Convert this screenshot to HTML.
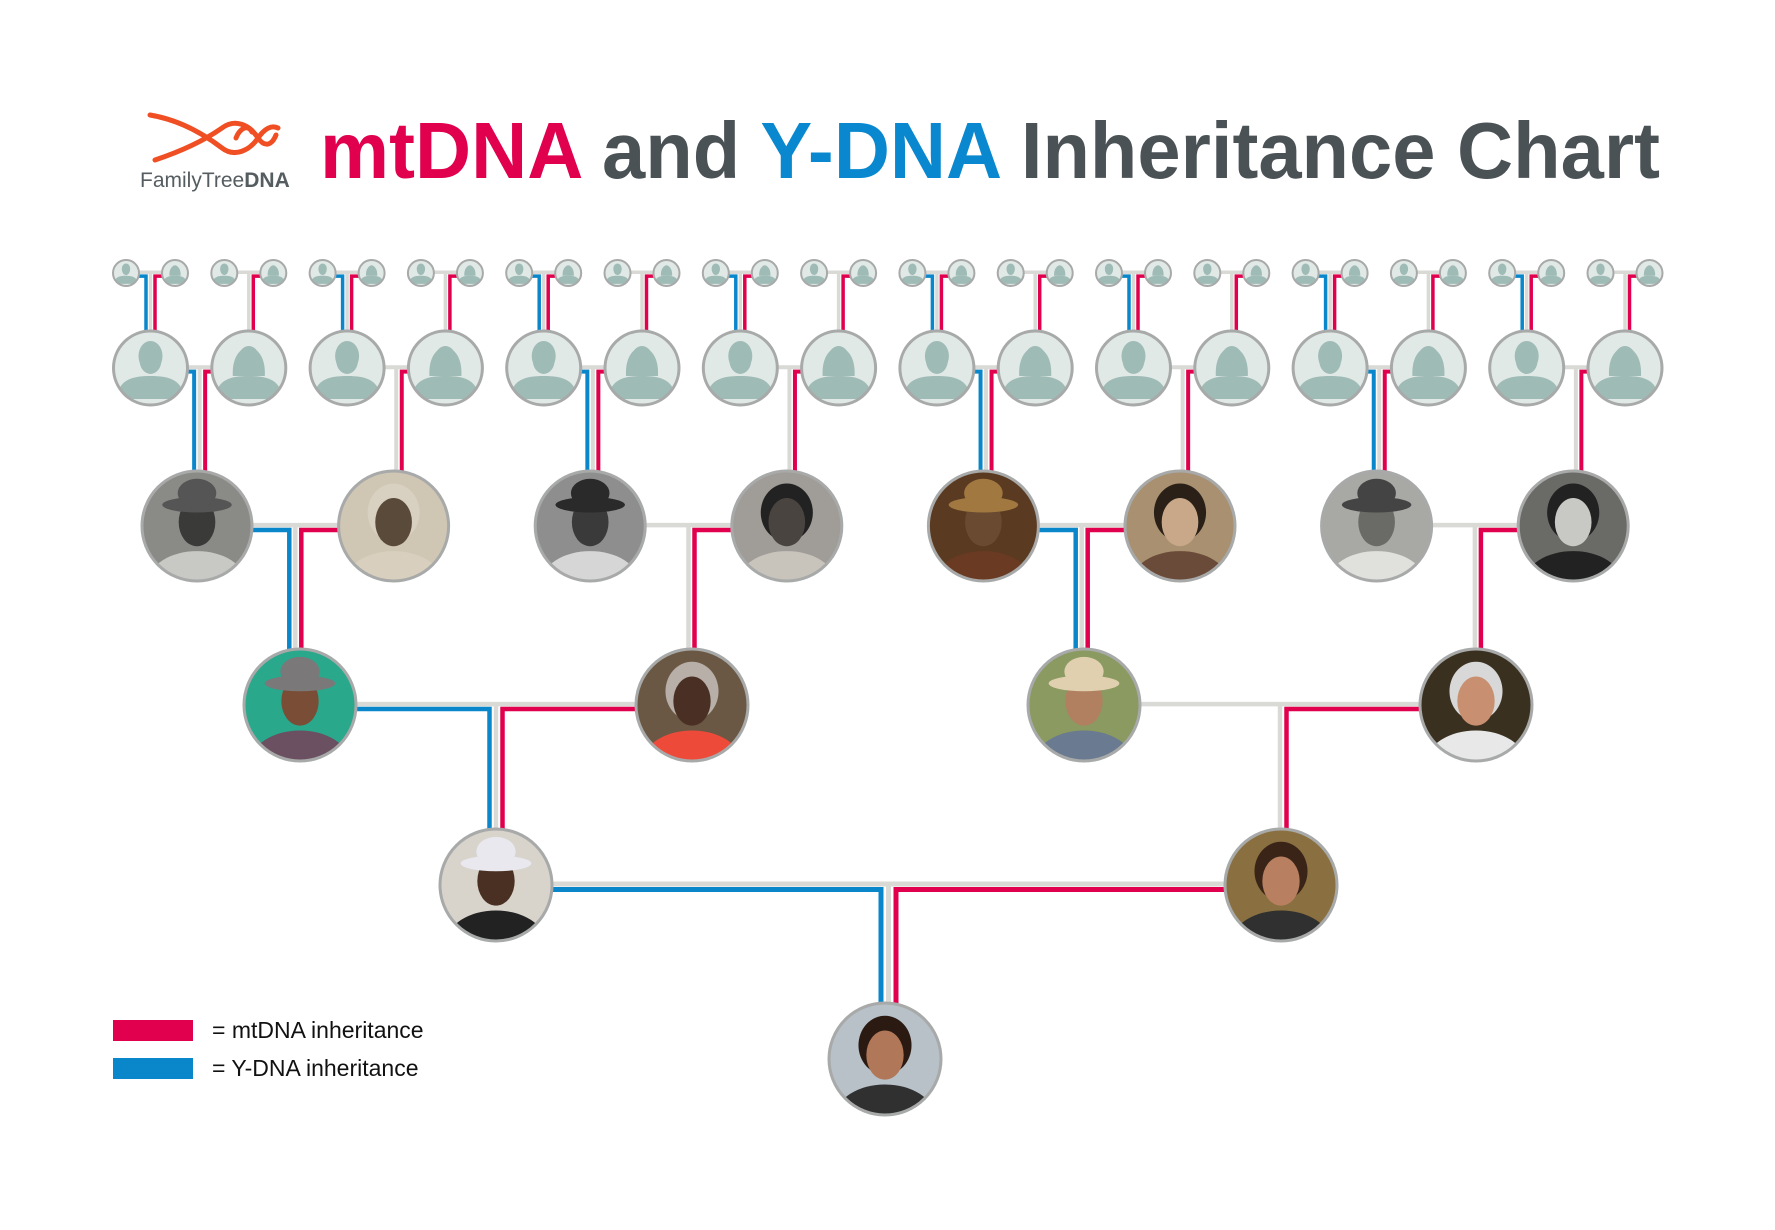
<!DOCTYPE html>
<html><head><meta charset="utf-8"><style>
html,body{margin:0;padding:0;background:#fff;width:1775px;height:1230px;overflow:hidden}
svg{display:block}
</style></head><body>
<svg id="s" width="1775" height="1230" viewBox="0 0 1775 1230" xmlns="http://www.w3.org/2000/svg">
<rect width="1775" height="1230" fill="#fff"/>
<g fill="none" stroke="#f04e23" stroke-width="5" stroke-linecap="round">
<path d="M150 115 C180 120 205 135 222 148 C235 158 250 150 258 138 C265 128 272 125 278 128"/>
<path d="M155 160 C185 150 205 140 222 128 C235 118 250 125 258 138 C265 148 272 145 276 135"/>
<path d="M236 138 C240 128 248 124 252 132"/>
</g>
<text x="140" y="187" font-family="Liberation Sans, sans-serif" font-size="21" fill="#555d61">FamilyTree<tspan font-weight="bold">DNA</tspan></text>
<text x="320" y="178" font-family="Liberation Sans, sans-serif" font-weight="bold" font-size="80" textLength="1340" lengthAdjust="spacingAndGlyphs"><tspan fill="#e0004d">mtDNA</tspan><tspan fill="#4a5256"> and </tspan><tspan fill="#0a88cf">Y-DNA</tspan><tspan fill="#4a5256"> Inheritance Chart</tspan></text>
<g id="lines"></g>
<g id="nodes"></g>
<rect x="113" y="1020" width="80" height="21" fill="#e0004d"/>
<rect x="113" y="1058" width="80" height="21" fill="#0a87cb"/>
<text x="212" y="1038" font-family="Liberation Sans, sans-serif" font-size="23" fill="#111">= mtDNA inheritance</text>
<text x="212" y="1076" font-family="Liberation Sans, sans-serif" font-size="23" fill="#111">= Y-DNA inheritance</text>
</svg>
<script>
var NS="http://www.w3.org/2000/svg";
var L=document.getElementById('lines'),N=document.getElementById('nodes');
var RED="#e0004d",BLUE="#0a87cb",GREY="#d9dad6";
var cid=0;
function el(p,t,a){var e=document.createElementNS(NS,t);for(var k in a)e.setAttribute(k,a[k]);p.appendChild(e);return e;}
function couple(lx,rx,y,r,cx,cy,cr,male,w,off){
  var m=(lx+rx)/2;
  el(L,'line',{x1:lx,y1:y-w*0.2,x2:rx,y2:y-w*0.2,stroke:GREY,'stroke-width':w});
  el(L,'line',{x1:m,y1:y,x2:m,y2:cy-cr+2,stroke:GREY,'stroke-width':w});
  if(male) el(L,'path',{d:'M'+(lx+r-2)+' '+(y+w*0.9)+' H'+(m-off)+' V'+(cy-cr+2),stroke:BLUE,'stroke-width':w,fill:'none'});
  el(L,'path',{d:'M'+(rx-r+2)+' '+(y+w*0.9)+' H'+(m+off)+' V'+(cy-cr+2),stroke:RED,'stroke-width':w,fill:'none'});
}
function placeholder(x,y,r,female){
  var id='c'+(cid++);
  var cp=el(N,'clipPath',{id:id});el(cp,'circle',{cx:x,cy:y,r:r});
  var g=el(N,'g',{'clip-path':'url(#'+id+')'});
  el(g,'rect',{x:x-r,y:y-r,width:2*r,height:2*r,fill:'#e1e9e7'});
  var s=r/37;
  if(female){
    el(g,'path',{d:'M'+(x-16*s)+' '+(y+8*s)+' C'+(x-18*s)+' '+(y-30*s)+' '+(x+18*s)+' '+(y-30*s)+' '+(x+16*s)+' '+(y+8*s)+' Z',fill:'#9fbbb6'});
  } else {
    el(g,'ellipse',{cx:x,cy:y-12*s,rx:12*s,ry:15*s,fill:'#9fbbb6'});
  }
  el(g,'ellipse',{cx:x,cy:y-8*s,rx:11*s,ry:14*s,fill:'#9fbbb6'});
  el(g,'path',{d:'M'+(x-33*s)+' '+(y+31*s)+' C'+(x-33*s)+' '+(y+10*s)+' '+(x-15*s)+' '+(y+8*s)+' '+x+' '+(y+8*s)+' C'+(x+15*s)+' '+(y+8*s)+' '+(x+33*s)+' '+(y+10*s)+' '+(x+33*s)+' '+(y+31*s)+' Z',fill:'#9fbbb6'});
  el(N,'circle',{cx:x,cy:y,r:r,fill:'none',stroke:'#a8a9a9','stroke-width':r>20?3:2});
}
function photo(x,y,r,p){
  var id='c'+(cid++);
  var cp=el(N,'clipPath',{id:id});el(cp,'circle',{cx:x,cy:y,r:r});
  var g=el(N,'g',{'clip-path':'url(#'+id+')'});
  el(g,'rect',{x:x-r,y:y-r,width:2*r,height:2*r,fill:p.bg});
  var s=r/57;
  if(p.hair) el(g,'ellipse',{cx:x,cy:y-14*s,rx:27*s,ry:30*s,fill:p.hair});
  el(g,'ellipse',{cx:x,cy:y+58*s,rx:50*s,ry:32*s,fill:p.body});
  el(g,'ellipse',{cx:x,cy:y-4*s,rx:19*s,ry:25*s,fill:p.skin});
  if(p.hat){
    el(g,'ellipse',{cx:x,cy:y-22*s,rx:36*s,ry:8*s,fill:p.hat});
    el(g,'ellipse',{cx:x,cy:y-34*s,rx:20*s,ry:15*s,fill:p.hat});
  }
  el(N,'circle',{cx:x,cy:y,r:r,fill:'none',stroke:'#a8a9a9','stroke-width':3});
}
var bx=[],g3=[],g4=[300,692,1084,1476],g5=[496,1281],g6=885;
for(var i=0;i<16;i++){bx.push(150.5+98.3*i);}
for(var i=0;i<8;i++){g3.push(197+196.6*i);}
var SY=273,SR=13,BY=368,BR=37,Y3=526,R3=55,Y4=705,R4=56,Y5=885,R5=56,Y6=1059,R6=56;
for(var i=0;i<16;i++){couple(bx[i]-24.5,bx[i]+24.5,SY,SR,bx[i],BY,BR,i%2==0,3.5,4.5);}
for(var j=0;j<8;j++){couple(bx[2*j],bx[2*j+1],BY,BR,g3[j],Y3,R3,j%2==0,4,5.5);}
for(var k=0;k<4;k++){couple(g3[2*k],g3[2*k+1],Y3,R3,g4[k],Y4,R4,k%2==0,4.5,6);}
for(var k=0;k<2;k++){couple(g4[2*k],g4[2*k+1],Y4,R4,g5[k],Y5,R5,k%2==0,4.5,6.5);}
couple(g5[0],g5[1],Y5,R5,g6+3,Y6,R6,true,5,7.5);
for(var i=0;i<16;i++){placeholder(bx[i]-24.5,SY,SR,false);placeholder(bx[i]+24.5,SY,SR,true);placeholder(bx[i],BY,BR,i%2==1);}
var P3=[
{bg:'#8a8a86',body:'#c8c8c4',skin:'#3a3a38',hat:'#555'},
{bg:'#cfc6b4',body:'#d8cfbe',skin:'#5a4a3a',hair:'#d8d0c0'},
{bg:'#8e8e8e',body:'#d6d6d6',skin:'#3a3a3a',hat:'#2a2a2a'},
{bg:'#a09c98',body:'#c8c4bc',skin:'#4a4440',hair:'#222'},
{bg:'#5a3a20',body:'#6a3a22',skin:'#6a4a30',hat:'#a07840'},
{bg:'#a89070',body:'#6a4a38',skin:'#c8a888',hair:'#2a2018'},
{bg:'#a8a8a4',body:'#e0e0dc',skin:'#6a6a66',hat:'#444'},
{bg:'#6a6a66',body:'#222',skin:'#c8c8c4',hair:'#222'}];
for(var j=0;j<8;j++)photo(g3[j],Y3,R3,P3[j]);
var P4=[
{bg:'#2aa88c',body:'#6a5060',skin:'#7a4e36',hat:'#7a7878'},
{bg:'#6a5844',body:'#ee4a3a',skin:'#4a3024',hair:'#b8b0a8'},
{bg:'#8a9a60',body:'#6a7a90',skin:'#b08060',hat:'#e0d0b0'},
{bg:'#3a3020',body:'#e8e8e8',skin:'#c89070',hair:'#d8d8d8'}];
for(var k=0;k<4;k++)photo(g4[k],Y4,R4,P4[k]);
photo(g5[0],Y5,R5,{bg:'#d8d4cc',body:'#222',skin:'#4a3022',hat:'#e8e8ee'});
photo(g5[1],Y5,R5,{bg:'#8a7040',body:'#303030',skin:'#b88060',hair:'#3a2418'});
photo(g6,Y6,R6,{bg:'#b8c0c8',body:'#303030',skin:'#b07858',hair:'#2a1a12'});
</script>
</body></html>
